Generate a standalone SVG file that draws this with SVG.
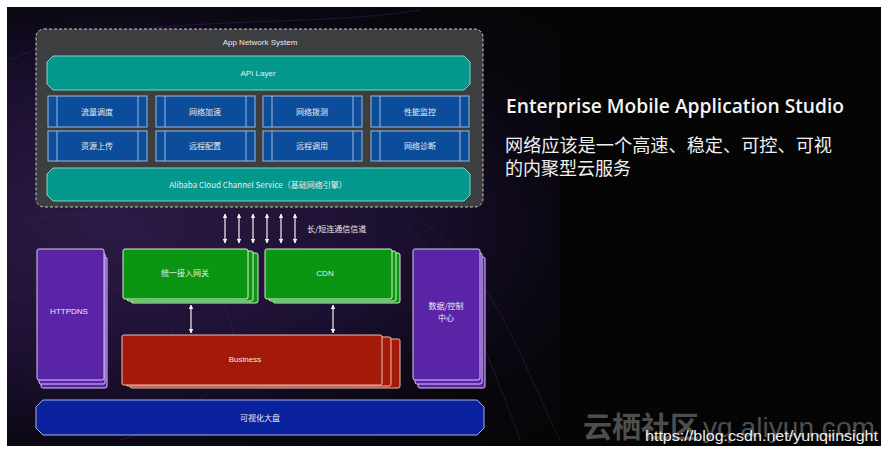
<svg xmlns="http://www.w3.org/2000/svg" width="889" height="452" viewBox="0 0 889 452">
<defs>
<radialGradient id="bg" cx="0.12" cy="0.5" r="0.7">
<stop offset="0" stop-color="#2c1a44"/>
<stop offset="0.45" stop-color="#1c1032"/>
<stop offset="0.75" stop-color="#0a0710"/>
<stop offset="1" stop-color="#050505"/>
</radialGradient>
<marker id="ah" viewBox="0 0 10 10" refX="9" refY="5" markerWidth="4" markerHeight="4" orient="auto-start-reverse">
<path d="M0,0 L10,5 L0,10 z" fill="#f2f2f2"/>
</marker>
<style>
.t{font-family:"Liberation Sans","Noto Sans CJK SC",sans-serif;fill:#ececec;text-anchor:middle;font-size:8px}
.cjk{font-family:"Noto Sans CJK SC","Liberation Sans",sans-serif;fill:#ececec;text-anchor:middle;font-size:8px}
.teal{fill:#04978c;stroke:#7fd6cc;stroke-width:1}
.blue{fill:#0b4d9b;stroke:#9fb8dc;stroke-width:1}
.bl{stroke:#9fb8dc;stroke-width:1}
.green{fill:#0a9612;stroke:#d6f0d0;stroke-width:1}
.red{fill:#a3190a;stroke:#f0c0b0;stroke-width:1}
.purple{fill:#5a24a6;stroke:#d8c8f0;stroke-width:1}
.navy{fill:#0b229f;stroke:#a8b0e0;stroke-width:1}
.conn{stroke:#f2f2f2;stroke-width:1.2;fill:none;marker-start:url(#ah);marker-end:url(#ah)}
</style>
</defs>
<rect width="889" height="452" fill="#ffffff"/>
<rect x="7" y="7" width="874" height="439" fill="url(#bg)"/>
<rect x="560" y="7" width="321" height="439" fill="#050505"/>
<g fill="none" stroke="#3a2458" stroke-width="1" opacity="0.5">
<path d="M10,60 C120,10 300,30 420,10"/>
<path d="M10,230 C60,200 160,210 220,300 C260,360 200,420 120,440"/>
<path d="M10,300 C80,260 160,290 180,350"/>
<path d="M380,200 C450,260 480,330 520,440"/>
<path d="M420,220 C500,280 520,360 560,440"/>
</g>

<g id="app-network-system">
<rect x="36" y="29" width="447" height="178" rx="8" fill="#3c3e40" stroke="#c8c8c8" stroke-width="1" stroke-dasharray="3,2"/>
<text class="t" x="260" y="45">App Network System</text>
</g>

<g id="api-layer">
<path class="teal" d="M53,56 H464 L470,62 V84 L464,90 H53 L47,84 V62 Z"/>
<text class="t" x="258" y="76">API Layer</text>
</g>

<g id="m1"><rect class="blue" x="48" y="96" width="99" height="31"/><line class="bl" x1="57" y1="96" x2="57" y2="127"/><line class="bl" x1="138" y1="96" x2="138" y2="127"/><text class="cjk" x="97" y="115">流量调度</text></g>
<g id="m2"><rect class="blue" x="156" y="96" width="99" height="31"/><line class="bl" x1="165" y1="96" x2="165" y2="127"/><line class="bl" x1="246" y1="96" x2="246" y2="127"/><text class="cjk" x="205" y="115">网络加速</text></g>
<g id="m3"><rect class="blue" x="263" y="96" width="99" height="31"/><line class="bl" x1="272" y1="96" x2="272" y2="127"/><line class="bl" x1="353" y1="96" x2="353" y2="127"/><text class="cjk" x="312" y="115">网络拨测</text></g>
<g id="m4"><rect class="blue" x="371" y="96" width="98" height="31"/><line class="bl" x1="380" y1="96" x2="380" y2="127"/><line class="bl" x1="460" y1="96" x2="460" y2="127"/><text class="cjk" x="420" y="115">性能监控</text></g>
<g id="m5"><rect class="blue" x="48" y="131" width="99" height="30"/><line class="bl" x1="57" y1="131" x2="57" y2="161"/><line class="bl" x1="138" y1="131" x2="138" y2="161"/><text class="cjk" x="97" y="149">资源上传</text></g>
<g id="m6"><rect class="blue" x="156" y="131" width="99" height="30"/><line class="bl" x1="165" y1="131" x2="165" y2="161"/><line class="bl" x1="246" y1="131" x2="246" y2="161"/><text class="cjk" x="205" y="149">远程配置</text></g>
<g id="m7"><rect class="blue" x="263" y="131" width="99" height="30"/><line class="bl" x1="272" y1="131" x2="272" y2="161"/><line class="bl" x1="353" y1="131" x2="353" y2="161"/><text class="cjk" x="312" y="149">远程调用</text></g>
<g id="m8"><rect class="blue" x="371" y="131" width="98" height="30"/><line class="bl" x1="380" y1="131" x2="380" y2="161"/><line class="bl" x1="460" y1="131" x2="460" y2="161"/><text class="cjk" x="420" y="149">网络诊断</text></g>

<g id="channel-service">
<path class="teal" d="M53,168 H464 L470,174 V195 L464,201 H53 L47,195 V174 Z"/>
<text class="cjk" x="258" y="188">Alibaba Cloud Channel Service（基础网络引擎）</text>
</g>

<g id="gateway">
<rect class="green" x="131" y="253" width="127" height="50" rx="2"/>
<rect class="green" x="127" y="251" width="126" height="50" rx="2"/>
<rect class="green" x="123" y="249" width="125" height="50" rx="2"/>
<text class="cjk" x="185" y="276">统一接入网关</text>
</g>

<g id="cdn">
<rect class="green" x="273" y="253" width="127" height="50" rx="2"/>
<rect class="green" x="269" y="251" width="127" height="50" rx="2"/>
<rect class="green" x="265" y="249" width="127" height="50" rx="2"/>
<text class="t" x="325" y="276">CDN</text>
</g>

<g id="business">
<rect class="red" x="130" y="339" width="270" height="49" rx="2"/>
<rect class="red" x="126" y="337" width="265" height="49" rx="2"/>
<rect class="red" x="122" y="335" width="260" height="50" rx="2"/>
<text class="t" x="245" y="362">Business</text>
</g>

<g id="httpdns">
<rect class="purple" x="41" y="257" width="66" height="131" rx="2"/>
<rect class="purple" x="39" y="253" width="66" height="131" rx="2"/>
<rect class="purple" x="37" y="249" width="67" height="131" rx="2"/>
<text class="t" x="69" y="314">HTTPDNS</text>
</g>

<g id="data-center">
<rect class="purple" x="418" y="257" width="67" height="131" rx="2"/>
<rect class="purple" x="415" y="253" width="67" height="131" rx="2"/>
<rect class="purple" x="413" y="249" width="67" height="131" rx="2"/>
<text class="cjk" x="446" y="309">数据/控制</text>
<text class="cjk" x="446" y="321">中心</text>
</g>

<g id="dashboard">
<path class="navy" d="M43,400 H477 L484,407 V428 L477,435 H43 L36,428 V407 Z"/>
<text class="cjk" x="260" y="421">可视化大盘</text>
</g>

<g id="connectors">
<line class="conn" x1="225" y1="214" x2="225" y2="243"/>
<line class="conn" x1="239" y1="214" x2="239" y2="243"/>
<line class="conn" x1="253" y1="214" x2="253" y2="243"/>
<line class="conn" x1="267" y1="214" x2="267" y2="243"/>
<line class="conn" x1="281" y1="214" x2="281" y2="243"/>
<line class="conn" x1="295" y1="214" x2="295" y2="243"/>
<line class="conn" x1="191" y1="305" x2="191" y2="333"/>
<line class="conn" x1="333" y1="305" x2="333" y2="333"/>
<text class="cjk" x="307" y="232" style="text-anchor:start">长/短连通信信道</text>
</g>

<g id="headline">
<text x="506" y="113" font-family="'Open Sans','Liberation Sans',sans-serif" font-weight="600" font-size="19" fill="#f4f4f4" textLength="338" lengthAdjust="spacingAndGlyphs">Enterprise Mobile Application Studio</text>
<text x="505" y="152" font-family="'Noto Sans CJK SC',sans-serif" font-size="18" fill="#f0f0f0" textLength="327" lengthAdjust="spacingAndGlyphs">网络应该是一个高速、稳定、可控、可视</text>
<text x="505" y="175" font-family="'Noto Sans CJK SC',sans-serif" font-size="18" fill="#f0f0f0">的内聚型云服务</text>
</g>

<g id="watermark">
<text x="583" y="438" font-family="'Noto Sans CJK SC','Liberation Sans',sans-serif" font-size="29" font-weight="bold" fill="#4e4e4e">云栖社区</text>
<text x="703" y="437" font-family="'Liberation Sans',sans-serif" font-size="28" fill="#4e4e4e" textLength="172" lengthAdjust="spacingAndGlyphs">yq.aliyun.com</text>
<text x="645" y="441" font-family="'Liberation Sans',sans-serif" font-size="15" fill="#f0f0f0" textLength="233" lengthAdjust="spacingAndGlyphs">https://blog.csdn.net/yunqiinsight</text>
</g>
</svg>
